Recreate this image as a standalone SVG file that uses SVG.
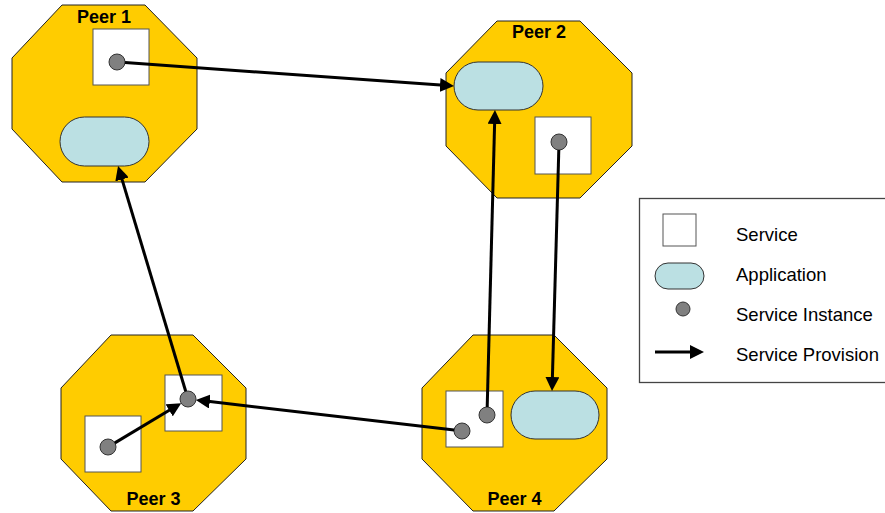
<svg xmlns="http://www.w3.org/2000/svg" width="885" height="513" viewBox="0 0 885 513">
<style>
.peer{fill:#FFCC00;stroke:#222;stroke-width:1}
.svc{fill:#fff;stroke:#555;stroke-width:1}
.app{fill:#BBE0E3;stroke:#333;stroke-width:1}
.inst{fill:#808080;stroke:#333;stroke-width:1}
.lbl{font-family:"Liberation Sans",Arial,sans-serif;font-weight:bold;font-size:18px;fill:#000;text-anchor:middle}
.leg{font-family:"Liberation Sans",Arial,sans-serif;font-size:18.5px;fill:#000}
.con{fill:none;stroke:#000;stroke-width:3;marker-end:url(#ah)}
</style>
<defs>
<marker id="ah" markerUnits="userSpaceOnUse" markerWidth="14" markerHeight="14" refX="4" refY="7" orient="auto">
<path d="M0,0 L14,7 L0,14 z" fill="#000"/>
</marker>
</defs>
<rect width="885" height="513" fill="#fff"/>

<g id="peer1">
<polygon class="peer" points="62,5 145,5 197,58 197,129 145,182 62,182 12,129 12,58"/>
<text class="lbl" x="104" y="23">Peer 1</text>
<rect class="svc" x="93" y="29" width="56" height="56"/>
<rect class="app" x="60" y="117" width="89" height="49" rx="24.5"/>
<circle class="inst" cx="117" cy="62" r="8"/>
</g>

<g id="peer2">
<polygon class="peer" points="497,21 580,21 632,73 632,146 580,198 497,198 446,146 446,73"/>
<text class="lbl" x="539" y="38">Peer 2</text>
<rect class="app" x="454" y="62" width="89" height="48" rx="24"/>
<rect class="svc" x="535" y="117" width="56" height="57"/>
<circle class="inst" cx="559" cy="142" r="8"/>
</g>

<g id="peer3">
<polygon class="peer" points="111,335 193,335 246,388 246,459 193,511 111,511 61,459 61,388"/>
<text class="lbl" x="153.5" y="505">Peer 3</text>
<rect class="svc" x="85" y="416" width="56" height="56"/>
<rect class="svc" x="165" y="375" width="57" height="56"/>
<circle class="inst" cx="108" cy="447" r="8"/>
<circle class="inst" cx="188" cy="399" r="8"/>
</g>

<g id="peer4">
<polygon class="peer" points="473,335 554,335 607,388 607,459 554,511 473,511 422,459 422,388"/>
<text class="lbl" x="514.5" y="505">Peer 4</text>
<rect class="svc" x="446" y="391" width="57" height="56"/>
<rect class="app" x="511" y="391" width="88" height="48" rx="24"/>
<circle class="inst" cx="487" cy="415" r="8"/>
<circle class="inst" cx="462" cy="431" r="8"/>
</g>

<g id="connectors">
<line class="con" x1="125" y1="62.6" x2="444" y2="85.3"/>
<line class="con" x1="487.2" y1="407" x2="494.7" y2="120"/>
<line class="con" x1="558.8" y1="150" x2="552.3" y2="381"/>
<line class="con" x1="454.1" y1="430.1" x2="205.8" y2="401.1"/>
<line class="con" x1="114.9" y1="442.9" x2="172.6" y2="408.3"/>
<line class="con" x1="185.7" y1="391.3" x2="120.9" y2="175.6"/>
</g>

<g id="legend">
<rect x="639.5" y="198.5" width="260" height="184" fill="#fff" stroke="#444" stroke-width="1.3"/>
<rect class="svc" x="663" y="214" width="33" height="32"/>
<rect class="app" x="655" y="263" width="49" height="26" rx="13"/>
<circle class="inst" cx="683" cy="309" r="7"/>
<line class="con" x1="655" y1="352" x2="694" y2="352"/>
<text class="leg" x="736" y="241">Service</text>
<text class="leg" x="736" y="281">Application</text>
<text class="leg" x="736" y="321">Service Instance</text>
<text class="leg" x="736" y="361">Service Provision</text>
</g>
</svg>
